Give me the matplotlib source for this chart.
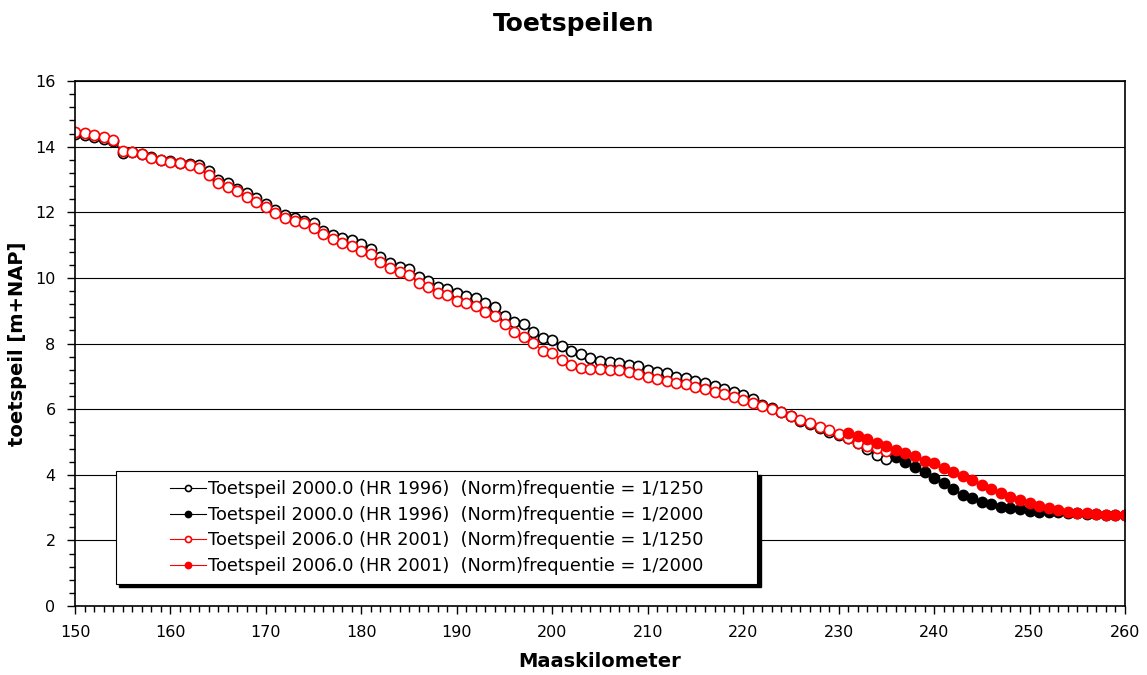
import matplotlib
matplotlib.use("Agg")
import matplotlib.pyplot as plt
from matplotlib.patches import Rectangle
from matplotlib.transforms import ScaledTranslation
from matplotlib.ticker import MultipleLocator

# river kilometres
km_open = list(range(150, 236))
km_fill = list(range(231, 261))

# Toetspeil 2000.0 (HR 1996), 1/1250
hr1996_1250 = [14.40, 14.35, 14.30, 14.24, 14.17, 13.80, 13.83, 13.77, 13.68, 13.60,
               13.55, 13.50, 13.47, 13.44, 13.27, 12.97, 12.88, 12.72, 12.58, 12.43,
               12.25, 12.07, 11.92, 11.82, 11.74, 11.66, 11.44, 11.31, 11.23, 11.16,
               11.03, 10.87, 10.63, 10.45, 10.32, 10.26, 10.04, 9.89, 9.73, 9.65,
               9.54, 9.45, 9.38, 9.23, 9.10, 8.85, 8.67, 8.60, 8.36, 8.16,
               8.11, 7.92, 7.78, 7.68, 7.57, 7.48, 7.43, 7.40, 7.35, 7.30,
               7.19, 7.14, 7.09, 6.99, 6.96, 6.86, 6.81, 6.71, 6.60, 6.51,
               6.43, 6.30, 6.13, 6.03, 5.92, 5.79, 5.65, 5.55, 5.44, 5.31,
               5.22, 5.11, 4.96, 4.78, 4.60, 4.47]

# Toetspeil 2000.0 (HR 1996), 1/2000
hr1996_2000 = [5.22, 5.12, 5.00, 4.88, 4.74, 4.55, 4.40, 4.25, 4.09, 3.89,
               3.74, 3.56, 3.38, 3.28, 3.18, 3.11, 3.03, 2.98, 2.95, 2.91,
               2.88, 2.86, 2.85, 2.83, 2.82, 2.81, 2.79, 2.78, 2.77, 2.77]

# Toetspeil 2006.0 (HR 2001), 1/1250
hr2001_1250 = [14.46, 14.41, 14.36, 14.28, 14.20, 13.87, 13.83, 13.77, 13.66, 13.59,
               13.52, 13.49, 13.44, 13.34, 13.14, 12.90, 12.78, 12.65, 12.48, 12.30,
               12.17, 11.99, 11.84, 11.73, 11.66, 11.53, 11.33, 11.18, 11.05, 10.97,
               10.83, 10.73, 10.49, 10.29, 10.19, 10.09, 9.85, 9.73, 9.55, 9.48,
               9.31, 9.23, 9.14, 8.97, 8.84, 8.60, 8.36, 8.19, 8.03, 7.78,
               7.70, 7.50, 7.33, 7.25, 7.22, 7.22, 7.20, 7.18, 7.12, 7.08,
               6.97, 6.91, 6.86, 6.81, 6.76, 6.68, 6.60, 6.53, 6.46, 6.38,
               6.28, 6.20, 6.10, 6.00, 5.90, 5.79, 5.67, 5.59, 5.47, 5.35,
               5.24, 5.12, 4.98, 4.89, 4.82, 4.73]

# Toetspeil 2006.0 (HR 2001), 1/2000
hr2001_2000 = [5.26, 5.18, 5.08, 4.98, 4.88, 4.75, 4.67, 4.57, 4.43, 4.35,
               4.20, 4.09, 3.96, 3.84, 3.69, 3.57, 3.43, 3.31, 3.23, 3.13,
               3.05, 2.98, 2.93, 2.87, 2.84, 2.83, 2.80, 2.78, 2.77, 2.77]

labels = ["Toetspeil 2000.0 (HR 1996)  (Norm)frequentie = 1/1250",
          "Toetspeil 2000.0 (HR 1996)  (Norm)frequentie = 1/2000",
          "Toetspeil 2006.0 (HR 2001)  (Norm)frequentie = 1/1250",
          "Toetspeil 2006.0 (HR 2001)  (Norm)frequentie = 1/2000"]

plt.rcParams['font.family'] = ['DejaVu Sans']

fig = plt.figure(figsize=(11.47, 6.75), dpi=100)
ax = fig.add_axes([0.0654, 0.1022, 0.9154, 0.7778])

ms = 7.3
mew = 1.2
ax.plot(km_open, hr1996_1250, color='black', lw=0.8, marker='o', ms=ms, mew=mew,
        mfc='white', mec='black', label=labels[0])
ax.plot(km_fill, hr1996_2000, color='black', lw=0.8, marker='o', ms=ms, mew=mew,
        mfc='black', mec='black', label=labels[1])
ax.plot(km_open, hr2001_1250, color='red', lw=0.8, marker='o', ms=ms, mew=mew,
        mfc='white', mec='red', label=labels[2])
ax.plot(km_fill, hr2001_2000, color='red', lw=0.8, marker='o', ms=ms, mew=mew,
        mfc='red', mec='red', label=labels[3])

ax.set_xlim(150, 260)
ax.set_ylim(0, 16)
ax.xaxis.set_major_locator(MultipleLocator(10))
ax.xaxis.set_minor_locator(MultipleLocator(1))
ax.yaxis.set_major_locator(MultipleLocator(2))
ax.yaxis.set_minor_locator(MultipleLocator(0.4))
ax.tick_params(which='major', direction='out', length=6, width=1, labelsize=11.5, pad=8)
ax.tick_params(which='minor', direction='out', length=4, width=1)
ax.grid(axis='y', which='major', color='black', lw=0.8)
ax.set_axisbelow(True)
for s in ax.spines.values():
    s.set_linewidth(1.2)

ax.set_xlabel("Maaskilometer", fontsize=14, fontweight='bold', labelpad=8)
ax.set_ylabel("toetspeil [m+NAP]", fontsize=14, fontweight='bold', labelpad=6)
fig.text(0.5, 0.965, "Toetspeilen", fontsize=18, fontweight='bold',
         ha='center', va='center')

# legend box with a hard black shadow
bx, by, bw, bh = 0.039, 0.042, 0.611, 0.215
shadow = Rectangle((bx, by), bw, bh, transform=ax.transAxes +
                   ScaledTranslation(2.5 / 72, -2.5 / 72, fig.dpi_scale_trans),
                   fc='black', ec='black', zorder=5)
box = Rectangle((bx, by), bw, bh, transform=ax.transAxes,
                fc='white', ec='black', lw=0.8, zorder=6)
ax.add_patch(shadow)
ax.add_patch(box)
leg = ax.legend(loc='center', bbox_to_anchor=(bx + bw / 2, by + bh / 2),
                frameon=False, fontsize=12.8, markerscale=0.6, numpoints=1,
                handlelength=2.0, handletextpad=0.1, labelspacing=0.42)
leg.set_zorder(7)

fig.savefig("out.png", dpi=100)
